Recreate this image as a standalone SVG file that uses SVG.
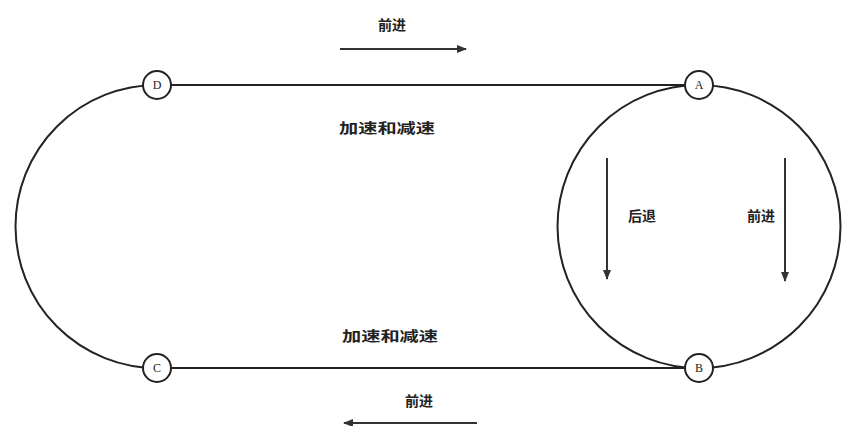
<svg xmlns="http://www.w3.org/2000/svg" width="843" height="426" viewBox="0 0 843 426">
<style>
.track{fill:none;stroke:#222;stroke-width:2}
.node{fill:#fff;stroke:#222;stroke-width:2}
.nl{font-family:"Liberation Serif",serif;font-size:12px;fill:#222;text-anchor:middle}
.lbl{font-family:"Noto Sans CJK SC",sans-serif;font-size:14px;font-weight:700;fill:#222;text-anchor:middle}
.arr{stroke:#333;stroke-width:2;fill:none;marker-end:url(#ah)}
</style>
<defs>
<marker id="ah" viewBox="0 0 10 10" refX="9" refY="5" markerWidth="5" markerHeight="5" orient="auto" markerUnits="strokeWidth">
<path d="M0,1 L10,5 L0,9 Z" fill="#333"/>
</marker>
</defs>
<rect width="843" height="426" fill="#fff"/>
<g id="connectors">
<line class="track" x1="157" y1="85" x2="699" y2="85"/>
<line class="track" x1="157" y1="368" x2="699" y2="368"/>
<path class="track" d="M157,85 A141.5,141.5 0 0 0 157,368"/>
<circle class="track" cx="699" cy="226.5" r="141.5"/>
<line class="arr" x1="340" y1="49" x2="466" y2="49"/>
<line class="arr" x1="477" y1="423" x2="344" y2="423"/>
<line class="arr" x1="607" y1="158" x2="607" y2="279"/>
<line class="arr" x1="785" y1="158" x2="785" y2="281"/>
</g>
<g id="node-D"><circle class="node" cx="157" cy="85" r="14"/><text class="nl" x="157" y="89">D</text></g>
<g id="node-A"><circle class="node" cx="699" cy="85" r="14"/><text class="nl" x="699" y="89">A</text></g>
<g id="node-B"><circle class="node" cx="699" cy="368" r="14"/><text class="nl" x="699" y="372">B</text></g>
<g id="node-C"><circle class="node" cx="157" cy="368" r="14"/><text class="nl" x="157" y="372">C</text></g>
<g id="labels">
<text class="lbl" x="392" y="30">前进</text>
<text class="lbl" x="387" y="133" textLength="96" lengthAdjust="spacingAndGlyphs">加速和减速</text>
<text class="lbl" x="390" y="341" textLength="96" lengthAdjust="spacingAndGlyphs">加速和减速</text>
<text class="lbl" x="419" y="406">前进</text>
<text class="lbl" x="642" y="221">后退</text>
<text class="lbl" x="761" y="221">前进</text>
</g>
</svg>
